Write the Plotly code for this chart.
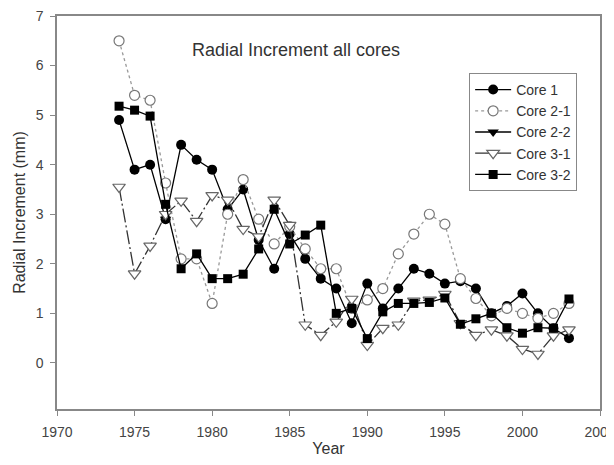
import plotly.graph_objects as go

years = list(range(1974, 2004))

core1 = [4.9, 3.9, 4.0, 2.9, 4.4, 4.1, 3.9, 3.1, 3.5, 2.48, 1.9, 2.6, 2.1, 1.7, 1.5, 0.8,
         1.6, 1.1, 1.5, 1.9, 1.8, 1.6, 1.65, 1.5, 1.0, 1.15, 1.4, 1.0, 0.7, 0.5]
core2_1 = [6.5, 5.4, 5.3, 3.63, 2.1, 2.1, 1.2, 3.0, 3.7, 2.9, 2.4, 2.75, 2.3, 1.9, 1.9, 1.1,
           1.27, 1.5, 2.2, 2.6, 3.0, 2.8, 1.7, 1.3, 0.95, 1.1, 1.0, 0.9, 1.0, 1.2]
core2_2 = [None, None, None, 2.9, None, None, None, None, None, 2.55, None, None, None, None, None, None,
           None, None, None, None, None, None, None, None, None, None, None, None, None, None]
core3_1 = [3.55, 1.8, 2.36, 3.0, 3.27, 2.86, 3.38, 3.29, 2.7, 2.55, 3.29, 2.78, 0.77, 0.56, 0.83, 1.29,
           0.36, 0.7, 0.77, 1.25, 1.27, 1.39, 0.8, 0.56, 0.67, 0.55, 0.28, 0.18, 0.55, 0.67]
core3_2 = [5.18, 5.1, 4.98, 3.2, 1.9, 2.2, 1.7, 1.7, 1.79, 2.3, 3.1, 2.4, 2.58, 2.78, 1.0, 1.1,
           0.49, 1.03, 1.2, 1.2, 1.22, 1.31, 0.78, 0.89, 1.0, 0.71, 0.6, 0.71, 0.7, 1.29]

x_ticks = [1970, 1975, 1980, 1985, 1990, 1995, 2000, 2005]
y_ticks = [0, 1, 2, 3, 4, 5, 6, 7]

FONT = "Liberation Sans, Arial"

fig = go.Figure()

fig.add_trace(go.Scatter(x=years, y=core1, name="Core 1", mode="lines+markers",
                         line=dict(color="black", width=1.3),
                         marker=dict(symbol="circle", size=10, color="black")))
fig.add_trace(go.Scatter(x=years, y=core2_1, name="Core 2-1", mode="lines+markers",
                         line=dict(color="#999999", width=1.3, dash="dot"),
                         marker=dict(symbol="circle", size=10, color="white",
                                     line=dict(color="#777777", width=1.2))))
fig.add_trace(go.Scatter(x=years, y=core2_2, name="Core 2-2", mode="lines+markers",
                         connectgaps=False,
                         line=dict(color="black", width=1.3),
                         marker=dict(symbol="triangle-down", size=10, color="black")))
fig.add_trace(go.Scatter(x=years, y=core3_1, name="Core 3-1", mode="lines+markers",
                         line=dict(color="#333333", width=1.3, dash="14px,3px,2px,3px"),
                         marker=dict(symbol="triangle-down", size=11, color="white",
                                     line=dict(color="#666666", width=1.2))))
fig.add_trace(go.Scatter(x=years, y=core3_2, name="Core 3-2", mode="lines+markers",
                         line=dict(color="black", width=1.3),
                         marker=dict(symbol="square", size=9, color="black")))

axis_common = dict(showline=True, linecolor="#888888", linewidth=1.5, mirror=True,
                   ticks="outside", ticklen=5, tickcolor="#888888", tickwidth=1,
                   showgrid=False, zeroline=False, automargin=False,
                   ticklabeloverflow="allow",
                   tickfont=dict(family=FONT, size=14, color="#444444"))

fig.update_xaxes(range=[1970, 2005], tickvals=x_ticks, **axis_common,
                 ticklabelstandoff=4,
                 title=dict(text="Year", font=dict(family=FONT, size=16, color="#333333"),
                            standoff=4))
fig.update_yaxes(range=[-0.93, 7], tickvals=y_ticks, **axis_common,
                 ticklabelstandoff=4,
                 title=dict(text="Radial Increment (mm)",
                            font=dict(family=FONT, size=16, color="#333333"),
                            standoff=6))

fig.update_layout(
    width=614, height=465,
    margin=dict(l=49, r=22, t=8, b=64),
    paper_bgcolor="white", plot_bgcolor="white",
    font=dict(family=FONT, color="#333333"),
    showlegend=True,
    legend=dict(x=0.759, y=0.855, xanchor="left", yanchor="top",
                bgcolor="white", bordercolor="#888888", borderwidth=1,
                font=dict(family=FONT, size=14, color="#333333"),
                tracegroupgap=0, itemsizing="trace", itemwidth=36),
    annotations=[dict(text="Radial Increment all cores", x=0.44, y=0.913, xref="paper", yref="paper",
                      xanchor="center", yanchor="middle", showarrow=False,
                      font=dict(family=FONT, size=18, color="#333333"))],
)

fig.write_html("out.html")
